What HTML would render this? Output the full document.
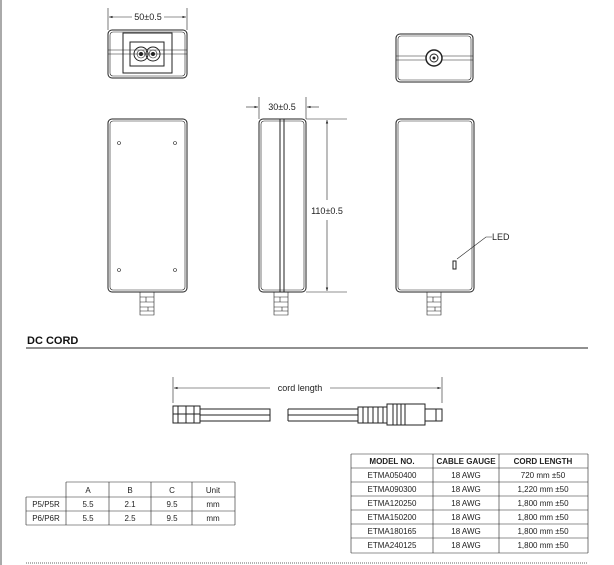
<!DOCTYPE html>
<html><head><meta charset="utf-8"><style>
html,body{margin:0;padding:0;background:#fff;}
svg{display:block;font-family:"Liberation Sans",sans-serif;}
.l{fill:none;stroke:#222;stroke-width:1}
.t{fill:none;stroke:#222;stroke-width:0.6}
.tb{font-size:8px;fill:#222;text-anchor:middle}
.th{font-size:8px;fill:#222;text-anchor:middle;font-weight:bold}
</style></head><body>
<svg width="614" height="565" viewBox="0 0 614 565" xmlns="http://www.w3.org/2000/svg">
<defs>
<marker id="a" markerWidth="6" markerHeight="6" refX="6" refY="3" orient="auto"><path d="M0,1 L6,3 L0,5z" fill="#222"/></marker>
</defs>
<rect x="0" y="0" width="2" height="565" fill="#aaa"/>

<!-- top-left front -->
<line class="t" x1="108" y1="8" x2="108" y2="30"/><line class="t" x1="187" y1="8" x2="187" y2="30"/>
<line class="t" x1="132" y1="17" x2="109" y2="17" marker-end="url(#a)"/>
<line class="t" x1="164" y1="17" x2="186" y2="17" marker-end="url(#a)"/>
<text x="148" y="20" font-size="9" text-anchor="middle" fill="#222">50±0.5</text>
<rect class="l" x="108" y="30" width="79" height="48" rx="4"/>
<rect class="t" x="110" y="32" width="75" height="44" rx="3"/>
<line class="t" x1="108" y1="50" x2="187" y2="50"/><line class="t" x1="108" y1="54" x2="187" y2="54"/>
<rect class="l" x="123" y="33" width="49" height="40" fill="#fff"/>
<rect class="l" x="130" y="42" width="34" height="24"/>
<circle cx="141" cy="54" r="7" class="l"/><circle cx="153" cy="54" r="7" class="l"/>
<circle cx="141" cy="54" r="4" class="t"/><circle cx="153" cy="54" r="4" class="t"/>
<circle cx="141" cy="54" r="2" fill="#222"/><circle cx="153" cy="54" r="2" fill="#222"/>

<!-- top-right -->
<rect class="l" x="396" y="34" width="77" height="48" rx="4"/>
<rect class="t" x="398" y="36" width="73" height="44" rx="3"/>
<line class="t" x1="396" y1="56" x2="473" y2="56"/><line class="t" x1="396" y1="60" x2="473" y2="60"/>
<circle cx="434" cy="58" r="8" fill="#fff" stroke="#222" stroke-width="1.5"/>
<circle cx="434" cy="58" r="4" class="l"/><circle cx="434" cy="58" r="1.5" fill="#222"/>

<!-- bottom-left -->
<rect class="l" x="108" y="119" width="79" height="173" rx="4"/>
<rect class="t" x="110" y="121" width="75" height="169" rx="3"/>
<circle class="t" cx="119" cy="143" r="1.5"/><circle class="t" cx="175" cy="143" r="1.5"/>
<circle class="t" cx="119" cy="270" r="1.5"/><circle class="t" cx="175" cy="270" r="1.5"/>

<!-- side -->
<line class="t" x1="259" y1="97" x2="259" y2="119"/><line class="t" x1="306" y1="97" x2="306" y2="119"/>
<line class="t" x1="246" y1="107" x2="258" y2="107" marker-end="url(#a)"/>
<line class="t" x1="319" y1="107" x2="307" y2="107" marker-end="url(#a)"/>
<text x="282" y="110" font-size="9" text-anchor="middle" fill="#222">30±0.5</text>
<rect class="l" x="259" y="119" width="47" height="173" rx="4"/>
<rect class="t" x="261" y="121" width="43" height="169" rx="3"/>
<rect x="280" y="119" width="4" height="173" fill="none" stroke="#222" stroke-width="1"/>
<line class="t" x1="306" y1="119" x2="347" y2="119"/><line class="t" x1="306" y1="292" x2="347" y2="292"/>
<line class="t" x1="327" y1="200" x2="327" y2="120" marker-end="url(#a)"/>
<line class="t" x1="327" y1="220" x2="327" y2="291" marker-end="url(#a)"/>
<text x="327" y="214" font-size="9" text-anchor="middle" fill="#222">110±0.5</text>

<!-- bottom-right -->
<rect class="l" x="396" y="119" width="78" height="173" rx="4"/>
<rect class="t" x="398" y="121" width="74" height="169" rx="3"/>
<rect class="l" x="453" y="261" width="3" height="8"/>
<polyline class="t" points="457,259 486,237 492,237"/>
<text x="492" y="240" font-size="9" fill="#222">LED</text>

<!-- strain reliefs -->
<g class="t">
<path d="M140,292 h14 v23 h-14z M140,297 h14 M140,302 h14 M140,307 h14 M140,311 h14 M146,297 v5 M148,307 v4"/>
<path d="M274,292 h14 v23 h-14z M274,297 h14 M274,302 h14 M274,307 h14 M274,311 h14 M280,297 v5 M282,307 v4"/>
<path d="M427,292 h14 v23 h-14z M427,297 h14 M427,302 h14 M427,307 h14 M427,311 h14 M433,297 v5 M435,307 v4"/>
</g>

<!-- DC CORD -->
<text x="27" y="344" font-size="11" font-weight="bold" fill="#111">DC CORD</text>
<line x1="26" y1="348" x2="588" y2="348" stroke="#222" stroke-width="1"/>

<line class="t" x1="173" y1="377" x2="173" y2="403"/><line class="t" x1="442" y1="377" x2="442" y2="403"/>
<line class="t" x1="270" y1="388" x2="174" y2="388" marker-end="url(#a)"/>
<line class="t" x1="330" y1="388" x2="441" y2="388" marker-end="url(#a)"/>
<text x="300" y="391" font-size="9" text-anchor="middle" fill="#222">cord length</text>
<g class="l">
<path d="M173,406 h27 v17 h-27z M178,406 v17 M186,406 v17 M194,406 v17 M173,414 h27"/>
<path d="M200,409 h70 v12 h-70 M200,415 h70"/>
<path d="M288,409 h70 M288,421 h70 M288,415 h70 M288,409 v12"/>
<path d="M358,407 h29 v16 h-29z M363,407 v16 M368,407 v16 M373,407 v16 M378,407 v16 M383,407 v16"/>
<path d="M387,404 h38 v21 h-38z M393,404 v21 M397,404 v21 M401,404 v21 M405,404 v21"/>
<path d="M425,409 h17 v12 h-17z M436,409 v12"/>
</g>

<!-- small table -->
<path class="t" stroke-width="0.8" d="M66,482 H235 M26,497 H235 M26,511 H235 M26,525 H235 M26,497 V525 M66,482 V525 M109,482 V525 M151,482 V525 M192,482 V525 M235,482 V525"/>
<text class="tb" x="88" y="493">A</text><text class="tb" x="130" y="493">B</text><text class="tb" x="172" y="493">C</text><text class="tb" x="213" y="493">Unit</text>
<text class="tb" x="46" y="507">P5/P5R</text><text class="tb" x="88" y="507">5.5</text><text class="tb" x="130" y="507">2.1</text><text class="tb" x="172" y="507">9.5</text><text class="tb" x="213" y="507">mm</text>
<text class="tb" x="46" y="521">P6/P6R</text><text class="tb" x="88" y="521">5.5</text><text class="tb" x="130" y="521">2.5</text><text class="tb" x="172" y="521">9.5</text><text class="tb" x="213" y="521">mm</text>

<!-- big table -->
<path class="t" stroke-width="0.8" d="M351,454 H588 M351,468 H588 M351,482 H588 M351,496 H588 M351,510 H588 M351,524 H588 M351,538 H588 M351,553 H588 M351,454 V553 M433,454 V553 M499,454 V553 M588,454 V553"/>
<text class="th" x="392" y="464">MODEL NO.</text><text class="th" x="466" y="464">CABLE GAUGE</text><text class="th" x="543" y="464">CORD LENGTH</text>
<text class="tb" x="392" y="478">ETMA050400</text><text class="tb" x="466" y="478">18 AWG</text><text class="tb" x="543" y="478">720 mm ±50</text>
<text class="tb" x="392" y="492">ETMA090300</text><text class="tb" x="466" y="492">18 AWG</text><text class="tb" x="543" y="492">1,220 mm ±50</text>
<text class="tb" x="392" y="506">ETMA120250</text><text class="tb" x="466" y="506">18 AWG</text><text class="tb" x="543" y="506">1,800 mm ±50</text>
<text class="tb" x="392" y="520">ETMA150200</text><text class="tb" x="466" y="520">18 AWG</text><text class="tb" x="543" y="520">1,800 mm ±50</text>
<text class="tb" x="392" y="534">ETMA180165</text><text class="tb" x="466" y="534">18 AWG</text><text class="tb" x="543" y="534">1,800 mm ±50</text>
<text class="tb" x="392" y="548">ETMA240125</text><text class="tb" x="466" y="548">18 AWG</text><text class="tb" x="543" y="548">1,800 mm ±50</text>

<line x1="26" y1="563" x2="588" y2="563" stroke="#999" stroke-width="1.5" stroke-dasharray="1,1"/>
</svg>
</body></html>
